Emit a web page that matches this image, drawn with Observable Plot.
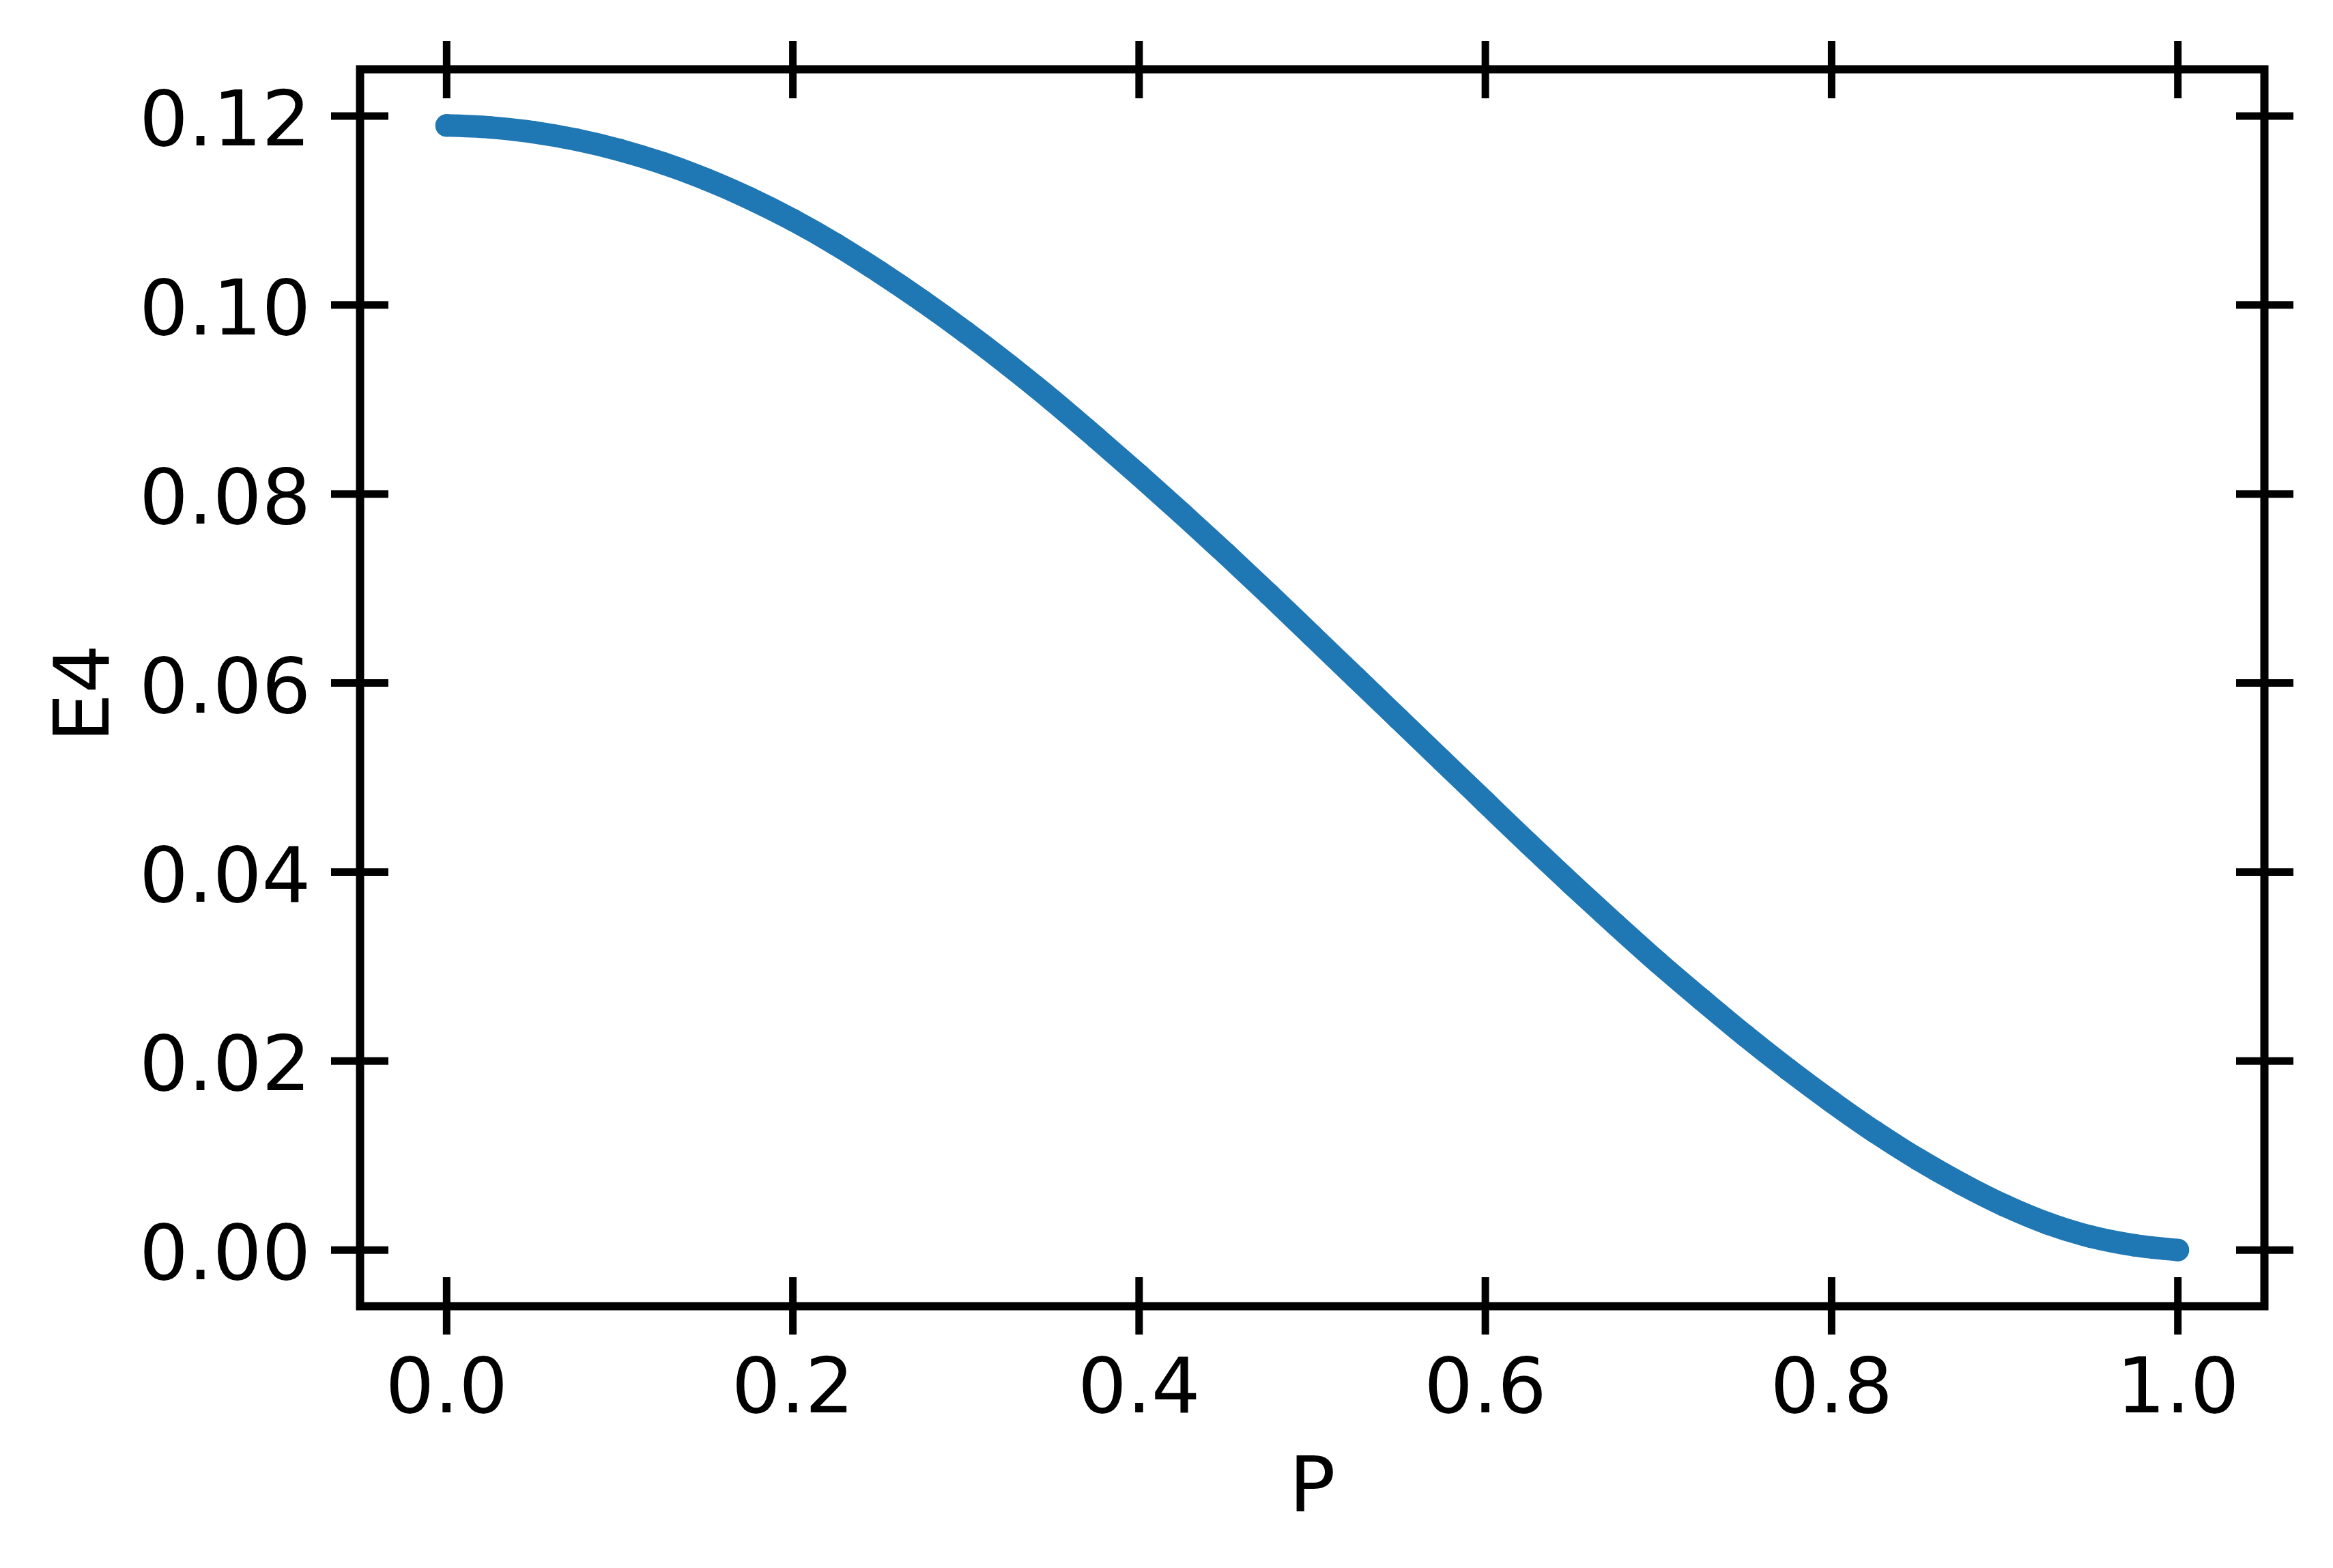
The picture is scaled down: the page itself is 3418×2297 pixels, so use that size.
<!DOCTYPE html>
<html>
<head>
<meta charset="utf-8">
<script src="https://cdn.jsdelivr.net/npm/d3@7"></script>
<script src="https://cdn.jsdelivr.net/npm/@observablehq/plot@0.6"></script>
<style>
  html, body { margin: 0; padding: 0; background: #ffffff; }
  #chart svg { display: block; }
</style>
</head>
<body>
<div id="chart"></div>
<script>
// ---- data ----
const P = [0.000, 0.025, 0.050, 0.075, 0.100, 0.125, 0.150, 0.175, 0.200, 0.225,
           0.250, 0.275, 0.300, 0.325, 0.350, 0.375, 0.400, 0.425, 0.450, 0.475,
           0.500, 0.525, 0.550, 0.575, 0.600, 0.625, 0.650, 0.675, 0.700, 0.725,
           0.750, 0.775, 0.800, 0.825, 0.850, 0.875, 0.900, 0.925, 0.950, 0.975, 1.000];
const E4 = [0.1190, 0.1188, 0.1183, 0.1175, 0.1164, 0.1150, 0.1133, 0.1113, 0.1090, 0.1064,
            0.1035, 0.1004, 0.0971, 0.0936, 0.0899, 0.0860, 0.0820, 0.0779, 0.0737, 0.0694,
            0.0650, 0.0606, 0.0562, 0.0518, 0.0474, 0.0430, 0.0387, 0.0345, 0.0304, 0.0265,
            0.0227, 0.0191, 0.0157, 0.0125, 0.0096, 0.0070, 0.0047, 0.0028, 0.0014, 0.0005, 0.0000];
const xTicks = [0.0, 0.2, 0.4, 0.6, 0.8, 1.0];
const xTickLabels = ["0.0", "0.2", "0.4", "0.6", "0.8", "1.0"];
const yTicks = [0.00, 0.02, 0.04, 0.06, 0.08, 0.10, 0.12];
const yTickLabels = ["0.00", "0.02", "0.04", "0.06", "0.08", "0.10", "0.12"];
const xLabel = "P";
const yLabel = "E4";

// ---- build ----
const data = P.map((p, i) => ({P: p, E4: E4[i]}));
const blue = "#1f77b4";
const font = "'DejaVu Sans', 'Liberation Sans', sans-serif";
const fs = 113;
const tickLen = 84;
const tickW = 11;

const xFmt = d => xTickLabels[xTicks.indexOf(d)];
const yFmt = d => yTickLabels[yTicks.indexOf(d)];

const chart = Plot.plot({
  width: 3418,
  height: 2297,
  marginLeft: 527,
  marginRight: 101,
  marginTop: 101,
  marginBottom: 384,
  style: {fontFamily: font, fontSize: fs + "px", color: "black", background: "white", overflow: "visible"},
  x: {domain: [-0.05, 1.05]},
  y: {domain: [-0.00595, 0.12495]},
  marks: [
    Plot.line(data, {x: "P", y: "E4", stroke: blue, strokeWidth: 33, curve: "catmull-rom",
                     strokeLinecap: "round", strokeLinejoin: "round"}),
    Plot.dot(data, {x: "P", y: "E4", r: 16.5, fill: blue}),
    Plot.frame({stroke: "black", strokeWidth: 12}),
    // in-out ticks on all four sides
    Plot.axisX(xTicks, {anchor: "bottom", tickSize: tickLen, dy: -tickLen / 2, strokeWidth: tickW, tickFormat: () => "", label: null}),
    Plot.axisX(xTicks, {anchor: "top", tickSize: tickLen, dy: tickLen / 2, strokeWidth: tickW, tickFormat: () => "", label: null}),
    Plot.axisY(yTicks, {anchor: "left", tickSize: tickLen, dx: tickLen / 2, strokeWidth: tickW, tickFormat: () => "", label: null}),
    Plot.axisY(yTicks, {anchor: "right", tickSize: tickLen, dx: -tickLen / 2, strokeWidth: tickW, tickFormat: () => "", label: null}),
    // tick labels
    Plot.axisX(xTicks, {anchor: "bottom", tickSize: 0, tickPadding: 75, tickFormat: xFmt, label: null,
                        fontSize: fs, fontFamily: font, fill: "black"}),
    Plot.axisY(yTicks, {anchor: "left", tickSize: 0, tickPadding: 72, tickFormat: yFmt, label: null, dy: 7,
                        fontSize: fs, fontFamily: font, fill: "black"}),
    // axis titles
    Plot.text([xLabel], {frameAnchor: "bottom", text: d => d, dy: 300, lineAnchor: "bottom", textAnchor: "middle",
                         fontSize: fs, fontFamily: font, fill: "black"}),
    Plot.text([yLabel], {frameAnchor: "left", text: d => d, rotate: -90, dx: -369, dy: 8, lineAnchor: "bottom", textAnchor: "middle",
                         fontSize: fs, fontFamily: font, fill: "black"})
  ]
});
document.getElementById("chart").appendChild(chart);
</script>
</body>
</html>
